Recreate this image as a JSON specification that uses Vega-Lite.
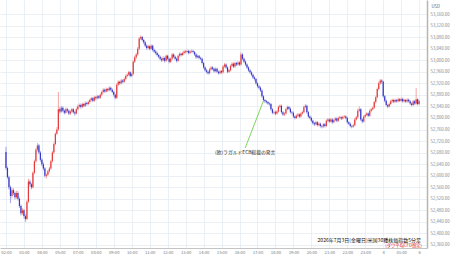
{
"$schema":"https://vega.github.io/schema/vega-lite/v6.json",
"width":427,"height":248,
"autosize":{"type":"none"},
"padding":{"left":0,"top":0,"right":23,"bottom":10},
"background":"white",
"config":{"font":"Noto Sans CJK JP","view":{"stroke":null}},
"data":{"values":[
{"i":0,"o":52682,"h":52700,"l":52620,"c":52627},
{"i":1,"o":52627,"h":52632,"l":52590,"c":52595},
{"i":2,"o":52595,"h":52600,"l":52552,"c":52560},
{"i":3,"o":52560,"h":52566,"l":52505,"c":52530},
{"i":4,"o":52530,"h":52558,"l":52522,"c":52550},
{"i":5,"o":52550,"h":52556,"l":52533,"c":52540},
{"i":6,"o":52540,"h":52545,"l":52518,"c":52525},
{"i":7,"o":52525,"h":52548,"l":52520,"c":52540},
{"i":8,"o":52540,"h":52546,"l":52514,"c":52520},
{"i":9,"o":52520,"h":52525,"l":52488,"c":52495},
{"i":10,"o":52495,"h":52500,"l":52462,"c":52470},
{"i":11,"o":52470,"h":52488,"l":52464,"c":52480},
{"i":12,"o":52480,"h":52485,"l":52452,"c":52460},
{"i":13,"o":52460,"h":52466,"l":52440,"c":52450},
{"i":14,"o":52450,"h":52516,"l":52446,"c":52510},
{"i":15,"o":52510,"h":52590,"l":52505,"c":52580},
{"i":16,"o":52580,"h":52586,"l":52562,"c":52570},
{"i":17,"o":52570,"h":52575,"l":52553,"c":52560},
{"i":18,"o":52560,"h":52615,"l":52556,"c":52610},
{"i":19,"o":52610,"h":52656,"l":52605,"c":52650},
{"i":20,"o":52650,"h":52696,"l":52645,"c":52690},
{"i":21,"o":52690,"h":52713,"l":52684,"c":52705},
{"i":22,"o":52705,"h":52710,"l":52674,"c":52680},
{"i":23,"o":52680,"h":52685,"l":52648,"c":52655},
{"i":24,"o":52655,"h":52660,"l":52633,"c":52640},
{"i":25,"o":52640,"h":52646,"l":52618,"c":52625},
{"i":26,"o":52625,"h":52630,"l":52594,"c":52600},
{"i":27,"o":52600,"h":52608,"l":52590,"c":52603},
{"i":28,"o":52603,"h":52620,"l":52598,"c":52615},
{"i":29,"o":52615,"h":52631,"l":52610,"c":52625},
{"i":30,"o":52625,"h":52655,"l":52620,"c":52650},
{"i":31,"o":52650,"h":52686,"l":52645,"c":52680},
{"i":32,"o":52680,"h":52716,"l":52675,"c":52710},
{"i":33,"o":52710,"h":52750,"l":52705,"c":52745},
{"i":34,"o":52745,"h":52768,"l":52740,"c":52760},
{"i":35,"o":52760,"h":52890,"l":52755,"c":52830},
{"i":36,"o":52830,"h":52838,"l":52815,"c":52822},
{"i":37,"o":52822,"h":52842,"l":52818,"c":52835},
{"i":38,"o":52835,"h":52840,"l":52820,"c":52825},
{"i":39,"o":52825,"h":52830,"l":52812,"c":52818},
{"i":40,"o":52818,"h":52836,"l":52814,"c":52830},
{"i":41,"o":52830,"h":52835,"l":52819,"c":52825},
{"i":42,"o":52825,"h":52830,"l":52810,"c":52815},
{"i":43,"o":52815,"h":52828,"l":52810,"c":52822},
{"i":44,"o":52822,"h":52835,"l":52818,"c":52830},
{"i":45,"o":52830,"h":52834,"l":52815,"c":52820},
{"i":46,"o":52820,"h":52825,"l":52808,"c":52815},
{"i":47,"o":52815,"h":52836,"l":52812,"c":52830},
{"i":48,"o":52830,"h":52846,"l":52826,"c":52840},
{"i":49,"o":52840,"h":52850,"l":52835,"c":52845},
{"i":50,"o":52845,"h":52850,"l":52832,"c":52838},
{"i":51,"o":52838,"h":52853,"l":52834,"c":52848},
{"i":52,"o":52848,"h":52852,"l":52837,"c":52842},
{"i":53,"o":52842,"h":52858,"l":52838,"c":52852},
{"i":54,"o":52852,"h":52856,"l":52843,"c":52848},
{"i":55,"o":52848,"h":52860,"l":52844,"c":52855},
{"i":56,"o":52855,"h":52867,"l":52850,"c":52862},
{"i":57,"o":52862,"h":52873,"l":52857,"c":52868},
{"i":58,"o":52868,"h":52872,"l":52855,"c":52860},
{"i":59,"o":52860,"h":52877,"l":52856,"c":52872},
{"i":60,"o":52872,"h":52876,"l":52862,"c":52868},
{"i":61,"o":52868,"h":52880,"l":52864,"c":52875},
{"i":62,"o":52875,"h":52879,"l":52865,"c":52870},
{"i":63,"o":52870,"h":52885,"l":52866,"c":52880},
{"i":64,"o":52880,"h":52895,"l":52876,"c":52890},
{"i":65,"o":52890,"h":52903,"l":52886,"c":52898},
{"i":66,"o":52898,"h":52902,"l":52887,"c":52892},
{"i":67,"o":52892,"h":52905,"l":52888,"c":52900},
{"i":68,"o":52900,"h":52904,"l":52890,"c":52896},
{"i":69,"o":52896,"h":52910,"l":52892,"c":52905},
{"i":70,"o":52905,"h":52908,"l":52893,"c":52898},
{"i":71,"o":52898,"h":52902,"l":52885,"c":52890},
{"i":72,"o":52890,"h":52894,"l":52874,"c":52880},
{"i":73,"o":52880,"h":52884,"l":52864,"c":52870},
{"i":74,"o":52870,"h":52920,"l":52866,"c":52915},
{"i":75,"o":52915,"h":52930,"l":52910,"c":52925},
{"i":76,"o":52925,"h":52929,"l":52914,"c":52920},
{"i":77,"o":52920,"h":52935,"l":52916,"c":52930},
{"i":78,"o":52930,"h":52934,"l":52920,"c":52925},
{"i":79,"o":52925,"h":52940,"l":52921,"c":52935},
{"i":80,"o":52935,"h":52950,"l":52931,"c":52945},
{"i":81,"o":52945,"h":52955,"l":52940,"c":52950},
{"i":82,"o":52950,"h":52963,"l":52946,"c":52958},
{"i":83,"o":52958,"h":52962,"l":52940,"c":52945},
{"i":84,"o":52945,"h":52957,"l":52941,"c":52952},
{"i":85,"o":52952,"h":53000,"l":52948,"c":52995},
{"i":86,"o":52995,"h":53016,"l":52990,"c":53010},
{"i":87,"o":53010,"h":53026,"l":53004,"c":53020},
{"i":88,"o":53020,"h":53046,"l":53015,"c":53040},
{"i":89,"o":53040,"h":53080,"l":53035,"c":53075},
{"i":90,"o":53075,"h":53086,"l":53070,"c":53080},
{"i":91,"o":53080,"h":53084,"l":53065,"c":53070},
{"i":92,"o":53070,"h":53074,"l":53056,"c":53062},
{"i":93,"o":53062,"h":53066,"l":53045,"c":53050},
{"i":94,"o":53050,"h":53055,"l":53036,"c":53042},
{"i":95,"o":53042,"h":53054,"l":53038,"c":53048},
{"i":96,"o":53048,"h":53052,"l":53034,"c":53040},
{"i":97,"o":53040,"h":53055,"l":53036,"c":53050},
{"i":98,"o":53050,"h":53054,"l":53030,"c":53035},
{"i":99,"o":53035,"h":53040,"l":53024,"c":53030},
{"i":100,"o":53030,"h":53035,"l":53019,"c":53025},
{"i":101,"o":53025,"h":53030,"l":53013,"c":53018},
{"i":102,"o":53018,"h":53022,"l":53006,"c":53012},
{"i":103,"o":53012,"h":53016,"l":52999,"c":53005},
{"i":104,"o":53005,"h":53010,"l":52994,"c":53000},
{"i":105,"o":53000,"h":53014,"l":52996,"c":53008},
{"i":106,"o":53008,"h":53012,"l":52992,"c":52998},
{"i":107,"o":52998,"h":53020,"l":52994,"c":53015},
{"i":108,"o":53015,"h":53019,"l":53000,"c":53005},
{"i":109,"o":53005,"h":53009,"l":52989,"c":52995},
{"i":110,"o":52995,"h":53010,"l":52990,"c":53005},
{"i":111,"o":53005,"h":53025,"l":53000,"c":53020},
{"i":112,"o":53020,"h":53024,"l":53007,"c":53012},
{"i":113,"o":53012,"h":53016,"l":53000,"c":53005},
{"i":114,"o":53005,"h":53009,"l":52992,"c":52998},
{"i":115,"o":52998,"h":53020,"l":52994,"c":53015},
{"i":116,"o":53015,"h":53027,"l":53010,"c":53022},
{"i":117,"o":53022,"h":53026,"l":53013,"c":53018},
{"i":118,"o":53018,"h":53030,"l":53014,"c":53025},
{"i":119,"o":53025,"h":53035,"l":53020,"c":53030},
{"i":120,"o":53030,"h":53034,"l":53023,"c":53028},
{"i":121,"o":53028,"h":53037,"l":53024,"c":53032},
{"i":122,"o":53032,"h":53036,"l":53020,"c":53025},
{"i":123,"o":53025,"h":53035,"l":53021,"c":53030},
{"i":124,"o":53030,"h":53037,"l":53026,"c":53032},
{"i":125,"o":53032,"h":53036,"l":53023,"c":53028},
{"i":126,"o":53028,"h":53032,"l":53015,"c":53020},
{"i":127,"o":53020,"h":53024,"l":53005,"c":53010},
{"i":128,"o":53010,"h":53020,"l":53006,"c":53015},
{"i":129,"o":53015,"h":53018,"l":53003,"c":53008},
{"i":130,"o":53008,"h":53012,"l":53000,"c":53005},
{"i":131,"o":53005,"h":53009,"l":52985,"c":52990},
{"i":132,"o":52990,"h":52994,"l":52970,"c":52975},
{"i":133,"o":52975,"h":52979,"l":52960,"c":52965},
{"i":134,"o":52965,"h":52970,"l":52954,"c":52960},
{"i":135,"o":52960,"h":52964,"l":52950,"c":52955},
{"i":136,"o":52955,"h":52973,"l":52951,"c":52968},
{"i":137,"o":52968,"h":52980,"l":52964,"c":52975},
{"i":138,"o":52975,"h":52979,"l":52965,"c":52970},
{"i":139,"o":52970,"h":52974,"l":52957,"c":52962},
{"i":140,"o":52962,"h":52975,"l":52958,"c":52970},
{"i":141,"o":52970,"h":52974,"l":52955,"c":52960},
{"i":142,"o":52960,"h":52964,"l":52950,"c":52955},
{"i":143,"o":52955,"h":52967,"l":52951,"c":52962},
{"i":144,"o":52962,"h":52966,"l":52953,"c":52958},
{"i":145,"o":52958,"h":52983,"l":52954,"c":52978},
{"i":146,"o":52978,"h":52990,"l":52974,"c":52985},
{"i":147,"o":52985,"h":52989,"l":52970,"c":52975},
{"i":148,"o":52975,"h":52979,"l":52955,"c":52960},
{"i":149,"o":52960,"h":52970,"l":52956,"c":52965},
{"i":150,"o":52965,"h":52985,"l":52961,"c":52980},
{"i":151,"o":52980,"h":52993,"l":52976,"c":52988},
{"i":152,"o":52988,"h":52992,"l":52973,"c":52978},
{"i":153,"o":52978,"h":52995,"l":52974,"c":52990},
{"i":154,"o":52990,"h":52994,"l":52980,"c":52985},
{"i":155,"o":52985,"h":52997,"l":52981,"c":52992},
{"i":156,"o":52992,"h":52996,"l":52980,"c":52985},
{"i":157,"o":52985,"h":53028,"l":52981,"c":53020},
{"i":158,"o":53020,"h":53024,"l":53000,"c":53005},
{"i":159,"o":53005,"h":53009,"l":52990,"c":52995},
{"i":160,"o":52995,"h":52999,"l":52980,"c":52985},
{"i":161,"o":52985,"h":52989,"l":52970,"c":52975},
{"i":162,"o":52975,"h":52979,"l":52960,"c":52965},
{"i":163,"o":52965,"h":52969,"l":52953,"c":52958},
{"i":164,"o":52958,"h":52962,"l":52945,"c":52950},
{"i":165,"o":52950,"h":52954,"l":52935,"c":52940},
{"i":166,"o":52940,"h":52945,"l":52929,"c":52935},
{"i":167,"o":52935,"h":52939,"l":52915,"c":52920},
{"i":168,"o":52920,"h":52924,"l":52905,"c":52910},
{"i":169,"o":52910,"h":52915,"l":52899,"c":52905},
{"i":170,"o":52905,"h":52909,"l":52890,"c":52895},
{"i":171,"o":52895,"h":52899,"l":52870,"c":52875},
{"i":172,"o":52875,"h":52879,"l":52857,"c":52862},
{"i":173,"o":52862,"h":52866,"l":52852,"c":52858},
{"i":174,"o":52858,"h":52862,"l":52850,"c":52855},
{"i":175,"o":52855,"h":52859,"l":52845,"c":52850},
{"i":176,"o":52850,"h":52854,"l":52842,"c":52848},
{"i":177,"o":52848,"h":52852,"l":52825,"c":52830},
{"i":178,"o":52830,"h":52834,"l":52813,"c":52818},
{"i":179,"o":52818,"h":52825,"l":52812,"c":52820},
{"i":180,"o":52820,"h":52825,"l":52810,"c":52815},
{"i":181,"o":52815,"h":52827,"l":52811,"c":52822},
{"i":182,"o":52822,"h":52843,"l":52818,"c":52838},
{"i":183,"o":52838,"h":52847,"l":52834,"c":52842},
{"i":184,"o":52842,"h":52846,"l":52815,"c":52820},
{"i":185,"o":52820,"h":52824,"l":52807,"c":52812},
{"i":186,"o":52812,"h":52820,"l":52806,"c":52815},
{"i":187,"o":52815,"h":52835,"l":52811,"c":52830},
{"i":188,"o":52830,"h":52843,"l":52826,"c":52838},
{"i":189,"o":52838,"h":52842,"l":52827,"c":52832},
{"i":190,"o":52832,"h":52836,"l":52815,"c":52820},
{"i":191,"o":52820,"h":52825,"l":52812,"c":52818},
{"i":192,"o":52818,"h":52822,"l":52800,"c":52805},
{"i":193,"o":52805,"h":52809,"l":52795,"c":52800},
{"i":194,"o":52800,"h":52813,"l":52796,"c":52808},
{"i":195,"o":52808,"h":52817,"l":52803,"c":52812},
{"i":196,"o":52812,"h":52816,"l":52800,"c":52805},
{"i":197,"o":52805,"h":52820,"l":52801,"c":52815},
{"i":198,"o":52815,"h":52825,"l":52811,"c":52820},
{"i":199,"o":52820,"h":52843,"l":52816,"c":52838},
{"i":200,"o":52838,"h":52848,"l":52834,"c":52842},
{"i":201,"o":52842,"h":52846,"l":52815,"c":52820},
{"i":202,"o":52820,"h":52824,"l":52800,"c":52805},
{"i":203,"o":52805,"h":52809,"l":52795,"c":52800},
{"i":204,"o":52800,"h":52804,"l":52785,"c":52790},
{"i":205,"o":52790,"h":52794,"l":52777,"c":52782},
{"i":206,"o":52782,"h":52786,"l":52772,"c":52778},
{"i":207,"o":52778,"h":52790,"l":52774,"c":52785},
{"i":208,"o":52785,"h":52789,"l":52771,"c":52776},
{"i":209,"o":52776,"h":52785,"l":52770,"c":52780},
{"i":210,"o":52780,"h":52784,"l":52767,"c":52772},
{"i":211,"o":52772,"h":52776,"l":52764,"c":52770},
{"i":212,"o":52770,"h":52783,"l":52766,"c":52778},
{"i":213,"o":52778,"h":52782,"l":52767,"c":52772},
{"i":214,"o":52772,"h":52795,"l":52768,"c":52790},
{"i":215,"o":52790,"h":52800,"l":52786,"c":52795},
{"i":216,"o":52795,"h":52799,"l":52783,"c":52788},
{"i":217,"o":52788,"h":52800,"l":52784,"c":52795},
{"i":218,"o":52795,"h":52799,"l":52780,"c":52785},
{"i":219,"o":52785,"h":52797,"l":52781,"c":52792},
{"i":220,"o":52792,"h":52803,"l":52788,"c":52798},
{"i":221,"o":52798,"h":52802,"l":52785,"c":52790},
{"i":222,"o":52790,"h":52805,"l":52786,"c":52800},
{"i":223,"o":52800,"h":52807,"l":52796,"c":52802},
{"i":224,"o":52802,"h":52806,"l":52793,"c":52798},
{"i":225,"o":52798,"h":52808,"l":52794,"c":52803},
{"i":226,"o":52803,"h":52810,"l":52799,"c":52805},
{"i":227,"o":52805,"h":52809,"l":52795,"c":52800},
{"i":228,"o":52800,"h":52804,"l":52780,"c":52785},
{"i":229,"o":52785,"h":52789,"l":52775,"c":52780},
{"i":230,"o":52780,"h":52784,"l":52767,"c":52772},
{"i":231,"o":52772,"h":52776,"l":52764,"c":52770},
{"i":232,"o":52770,"h":52780,"l":52766,"c":52775},
{"i":233,"o":52775,"h":52800,"l":52771,"c":52795},
{"i":234,"o":52795,"h":52808,"l":52791,"c":52802},
{"i":235,"o":52802,"h":52832,"l":52798,"c":52825},
{"i":236,"o":52825,"h":52840,"l":52820,"c":52830},
{"i":237,"o":52830,"h":52834,"l":52790,"c":52795},
{"i":238,"o":52795,"h":52799,"l":52782,"c":52788},
{"i":239,"o":52788,"h":52810,"l":52784,"c":52805},
{"i":240,"o":52805,"h":52815,"l":52800,"c":52810},
{"i":241,"o":52810,"h":52820,"l":52806,"c":52815},
{"i":242,"o":52815,"h":52819,"l":52803,"c":52808},
{"i":243,"o":52808,"h":52830,"l":52804,"c":52825},
{"i":244,"o":52825,"h":52835,"l":52820,"c":52830},
{"i":245,"o":52830,"h":52840,"l":52826,"c":52835},
{"i":246,"o":52835,"h":52860,"l":52831,"c":52855},
{"i":247,"o":52855,"h":52877,"l":52850,"c":52872},
{"i":248,"o":52872,"h":52905,"l":52868,"c":52900},
{"i":249,"o":52900,"h":52926,"l":52895,"c":52920},
{"i":250,"o":52920,"h":52935,"l":52915,"c":52930},
{"i":251,"o":52930,"h":52934,"l":52918,"c":52925},
{"i":252,"o":52925,"h":52929,"l":52870,"c":52875},
{"i":253,"o":52875,"h":52879,"l":52854,"c":52860},
{"i":254,"o":52860,"h":52864,"l":52840,"c":52845},
{"i":255,"o":52845,"h":52849,"l":52834,"c":52840},
{"i":256,"o":52840,"h":52853,"l":52836,"c":52848},
{"i":257,"o":52848,"h":52863,"l":52844,"c":52858},
{"i":258,"o":52858,"h":52867,"l":52853,"c":52862},
{"i":259,"o":52862,"h":52866,"l":52851,"c":52856},
{"i":260,"o":52856,"h":52867,"l":52852,"c":52862},
{"i":261,"o":52862,"h":52866,"l":52853,"c":52858},
{"i":262,"o":52858,"h":52870,"l":52854,"c":52865},
{"i":263,"o":52865,"h":52869,"l":52855,"c":52860},
{"i":264,"o":52860,"h":52871,"l":52856,"c":52866},
{"i":265,"o":52866,"h":52870,"l":52853,"c":52858},
{"i":266,"o":52858,"h":52867,"l":52854,"c":52862},
{"i":267,"o":52862,"h":52866,"l":52852,"c":52857},
{"i":268,"o":52857,"h":52868,"l":52853,"c":52863},
{"i":269,"o":52863,"h":52867,"l":52853,"c":52858},
{"i":270,"o":52858,"h":52862,"l":52845,"c":52850},
{"i":271,"o":52850,"h":52854,"l":52840,"c":52845},
{"i":272,"o":52845,"h":52863,"l":52841,"c":52858},
{"i":273,"o":52858,"h":52862,"l":52845,"c":52850},
{"i":274,"o":52850,"h":52904,"l":52846,"c":52865},
{"i":275,"o":52865,"h":52868,"l":52843,"c":52848},
{"i":276,"o":52848,"h":52862,"l":52845,"c":52858}
]},
"layer":[
{"mark":{"type":"rule","strokeWidth":1,"opacity":0.45},
 "encoding":{
  "x":{"field":"i","type":"quantitative","scale":{"domain":[-0.65,277.9],"nice":false,"zero":false},
   "axis":{"orient":"bottom","title":null,"tickCount":100,"values":[0,12,24,36,48,60,72,84,96,108,120,132,144,156,168,180,192,204,216,228,240,252,264,276],
    "labelExpr":"['02:00','03:00','04:00','05:00','07:00','08:00','09:00','10:00','11:00','12:00','13:00','14:00','15:00','16:00','17:00','18:00','19:00','20:00','21:00','22:00','23:00','4','01:00','6'][round(datum.value/12)]",
    "labelFlush":false,"labelOverlap":false,"labelBound":false,"labelFontSize":4.2,"labelColor":"#777","labelPadding":2,"ticks":false,
    "domainColor":"#c4c4c4","domainWidth":1,"grid":true,"gridColor":"#e6ecf3","gridWidth":0.8}},
  "y":{"field":"l","type":"quantitative","scale":{"domain":[52349.6,53208.5],"nice":false,"zero":false},
   "axis":{"orient":"right","title":"USD","titleAngle":0,"titleAlign":"left","titleBaseline":"middle","titleX":4,"titleY":6,"titleFontSize":4.3,"titleFontWeight":"normal","titleColor":"#666","tickCount":100,
    "values":[52360,52400,52440,52480,52520,52560,52600,52640,52680,52720,52760,52800,52840,52880,52920,52960,53000,53040,53080,53120,53160],
    "format":",.2f","labelOverlap":false,"labelFontSize":4.3,"labelColor":"#888","labelPadding":3,"ticks":false,
    "domainColor":"#b5b5b5","domainWidth":1.5,"grid":true,"gridColor":"#e6ecf3","gridWidth":0.8}},
  "y2":{"field":"h"},
  "color":{"condition":{"test":"datum.c >= datum.o","value":"#e23a3a"},"value":"#3535c8"}
 }},
{"mark":{"type":"bar","size":1.2},
 "encoding":{
  "x":{"field":"i","type":"quantitative"},
  "y":{"field":"o","type":"quantitative"},
  "y2":{"field":"c"},
  "color":{"condition":{"test":"datum.c >= datum.o","value":"#e23a3a"},"value":"#3535c8"}
 }},
{"data":{"values":[{"n":1}]},
 "mark":{"type":"rule","color":"#6ed04a","strokeWidth":0.9},
 "encoding":{"x":{"datum":172.2},"y":{"datum":52862},"x2":{"datum":159.8},"y2":{"datum":52696}}},
{"data":{"values":[{"t":"(欧)ラガルドECB総裁の発言"}]},
 "mark":{"type":"text","align":"center","baseline":"middle","fontSize":4.8,"color":"#222"},
 "encoding":{"text":{"field":"t"},"x":{"datum":159.8},"y":{"datum":52679}}},
{"data":{"values":[{"t":"2026年7月3日(金曜日)米国30種株価指数5分足"}]},
 "mark":{"type":"text","align":"right","baseline":"middle","fontSize":5,"color":"#111"},
 "encoding":{"text":{"field":"t"},"x":{"datum":277.2},"y":{"datum":52377}}},
{"data":{"values":[{"t":"(ダウ平均CFD想定)"}]},
 "mark":{"type":"text","align":"right","baseline":"middle","fontSize":4.3,"color":"#e02020"},
 "encoding":{"text":{"field":"t"},"x":{"datum":277.9},"y":{"datum":52358}}}
]
}
